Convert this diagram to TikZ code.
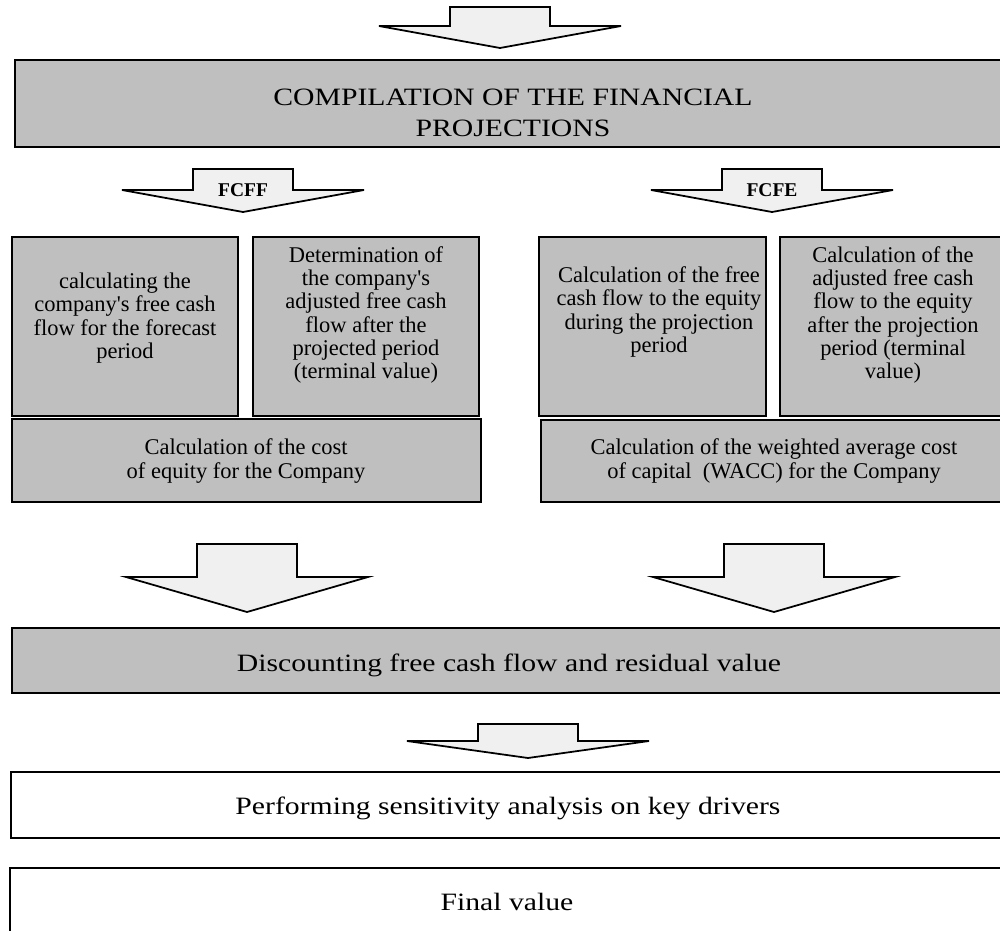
\documentclass[tikz,border=0pt]{standalone}
\usepackage{fontspec}
\setmainfont{Liberation Serif}
\newfontfamily\widefont[FakeStretch=1.19]{Liberation Serif}
\usetikzlibrary{fit}
\definecolor{boxgray}{RGB}{191,191,191}
\definecolor{arrowfill}{RGB}{240,240,240}
\tikzset{
 graybox/.style={draw=black, line width=1.4pt, fill=boxgray, inner sep=0pt},
 whitebox/.style={draw=black, line width=1.2pt, fill=white, inner sep=0pt},
 boxtext/.style={align=center, font=\fontsize{12.8}{13.2}\selectfont, inner sep=0pt},
 bigtext/.style={align=center, font=\widefont\fontsize{14.2}{17.6}\selectfont, inner sep=0pt},
 blockarrow/.style={draw=black, line width=1pt, fill=arrowfill, line join=miter},
 arrowlabel/.style={font=\bfseries\fontsize{11.1}{12}\selectfont, inner sep=0pt}
}
\newcommand{\flowarrow}[5]{%
 \draw[blockarrow] ({#1-50},#2) -- ({#1+50},#2) -- ({#1+50},#3) -- ({#1+121},#3) -- (#1,#4) coordinate (#5) -- ({#1-121},#3) -- ({#1-50},#3) -- cycle;
}
\begin{document}
\begin{tikzpicture}[x=0.02cm,y=-0.02cm]
\useasboundingbox (0,0) rectangle (1000,930);
\clip (0,0) rectangle (1000,930);
% arrows
\flowarrow{500}{7}{26}{48}{toptip}
\flowarrow{243}{169}{190}{212}{fcfftip}
\flowarrow{772}{169}{190}{212}{fcfetip}
\flowarrow{247}{544}{577}{612}{lefttip}
\flowarrow{774}{544}{577}{612}{righttip}
\flowarrow{528}{724}{741}{758}{smalltip}
\node[arrowlabel] (fcff) at (243,190) {FCFF};
\node[arrowlabel] (fcfe) at (772,190) {FCFE};
% boxes
\node[graybox, fit={(15,60) (1015,147)}] (proj) {};
\node[graybox, fit={(12,237) (238,416)}] (a) {};
\node[graybox, fit={(253,237) (479,416)}] (b) {};
\node[graybox, fit={(12,419) (481,502)}] (c) {};
\node[graybox, fit={(539,237) (766,416)}] (d) {};
\node[graybox, fit={(780,237) (1015,416)}] (e) {};
\node[graybox, fit={(541,420) (1015,502)}] (f) {};
\node[graybox, fit={(12,628) (1015,693)}] (disc) {};
\node[whitebox, fit={(11,772) (1015,838)}] (sens) {};
\node[whitebox, fit={(10,868) (1015,960)}] (final) {};
% texts
\node[bigtext] (projtext) at (513,113) {COMPILATION OF THE FINANCIAL\\PROJECTIONS};
\node[boxtext] (atext) at (125,318) {calculating the\\company\textquotesingle s free cash\\flow for the forecast\\period};
\node[boxtext] (btext) at (366,315) {Determination of\\the company\textquotesingle s\\adjusted free cash\\flow after the\\projected period\\(terminal value)};
\node[boxtext] (ctext) at (246,461) {Calculation of the cost\\of equity for the Company};
\node[boxtext] (dtext) at (659,312) {Calculation of the free\\cash flow to the equity\\during the projection\\period};
\node[boxtext] (etext) at (893,315) {Calculation of the\\adjusted free cash\\flow to the equity\\after the projection\\period (terminal\\value)};
\node[boxtext] (ftext) at (774,461) {Calculation of the weighted average cost\\of capital\ \ (WACC) for the Company};
\node[bigtext] (disctext) at (509,665) {Discounting free cash flow and residual value};
\node[bigtext] (senstext) at (508,808) {Performing sensitivity analysis on key drivers};
\node[bigtext] (finaltext) at (507,902) {Final value};
\end{tikzpicture}
\end{document}
